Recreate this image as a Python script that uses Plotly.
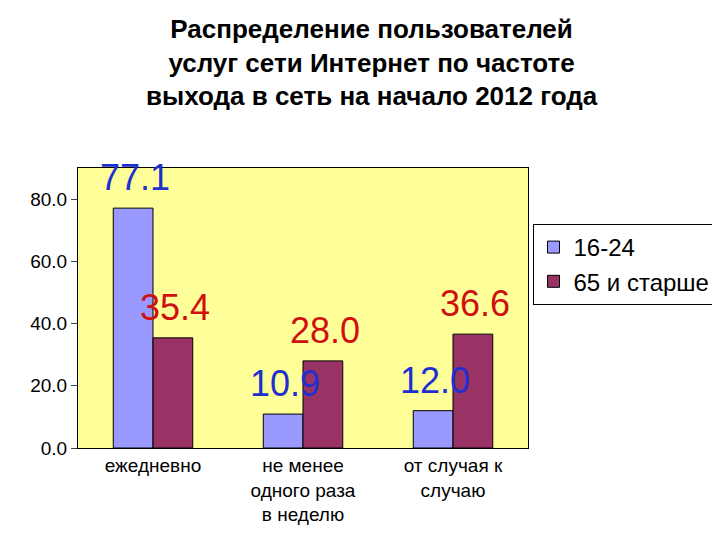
import plotly.graph_objects as go

categories = ["ежедневно", "не менее<br>одного раза<br>в неделю", "от случая к<br>случаю"]
young = [77.1, 10.9, 12.0]
old = [35.4, 28.0, 36.6]
tick_vals = [0, 20, 40, 60, 80]

fig = go.Figure()
fig.add_trace(go.Bar(
    x=categories, y=young, name="16-24",
    marker=dict(color="#9999FF", line=dict(color="black", width=1)),
))
fig.add_trace(go.Bar(
    x=categories, y=old, name="65 и старше",
    marker=dict(color="#993366", line=dict(color="black", width=1)),
))

# value labels as annotations so they keep their large size
for i, cat in enumerate(categories):
    fig.add_annotation(x=cat, y=young[i], text=f"{young[i]:.1f}", showarrow=False,
                       xshift=-18, yshift=8, yanchor="bottom",
                       font=dict(size=36, color="#1F2FD0"))
    fig.add_annotation(x=cat, y=old[i], text=f"{old[i]:.1f}", showarrow=False,
                       xshift=22, yshift=8, yanchor="bottom",
                       font=dict(size=36, color="#D01010"))

fig.update_layout(
    width=720, height=540,
    paper_bgcolor="white", plot_bgcolor="#FFFF99",
    font=dict(family="Liberation Sans", color="black"),
    title=dict(
        text="<b>Распределение пользователей<br>услуг сети Интернет по частоте<br>выхода в сеть на начало 2012 года</b>",
        x=0.505, xanchor="center", y=0.945, yanchor="top", font=dict(size=26),
    ),
    margin=dict(l=70, r=198, t=160, b=100),
    bargap=0.47, bargroupgap=0,
    showlegend=True,
    legend=dict(x=1.01, y=0.8, xanchor="left", yanchor="top",
                bordercolor="black", borderwidth=1, font=dict(size=24),
                tracegroupgap=28),
    xaxis=dict(tickfont=dict(size=19), showline=True, linecolor="black",
               mirror=True, ticks=""),
    yaxis=dict(range=[0, 90], tickvals=tick_vals, tickformat=".1f",
               tickfont=dict(size=19), showgrid=False, showline=True,
               linecolor="black", mirror=True, ticks="outside", ticklen=6, zeroline=False),
)

fig.write_html("out.html")
